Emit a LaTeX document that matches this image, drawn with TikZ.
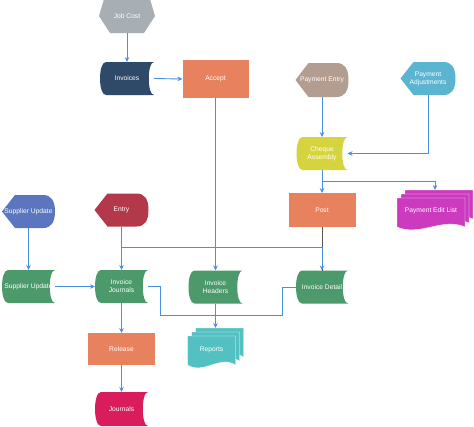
\documentclass[tikz,border=0pt]{standalone}
\usepackage{fontspec}
\setmainfont{Liberation Sans}
\usetikzlibrary{calc,arrows.meta}
\pgfdeclarelayer{back}
\pgfdeclarelayer{bg}
\pgfsetlayers{back,bg,main}
\definecolor{cNavy}{HTML}{2F4A68}
\definecolor{cOrange}{HTML}{E8825E}
\definecolor{cGray}{HTML}{A8AFB4}
\definecolor{cBrown}{HTML}{B39C90}
\definecolor{cTeal}{HTML}{5BB5D0}
\definecolor{cYellow}{HTML}{D6D43E}
\definecolor{cMagenta}{HTML}{CC3BBE}
\definecolor{cBlue}{HTML}{5B76BE}
\definecolor{cCrimson}{HTML}{B3394A}
\definecolor{cGreen}{HTML}{4C9A6B}
\definecolor{cReports}{HTML}{53C1C1}
\definecolor{cPink}{HTML}{D81C5C}
\definecolor{cArrow}{HTML}{4A90E2}
\definecolor{cDark}{HTML}{555555}
\tikzset{
  lbl/.style={inner sep=0pt, outer sep=0pt, text=white, font=\fontsize{6.7}{8}\selectfont, align=center},
  rectbox/.style={lbl, fill=cOrange},
  conn/.style={draw=cArrow, line width=0.9pt},
  arr/.style={conn, -{Stealth[length=5pt,width=4.5pt]}},
  darkconn/.style={draw=cDark, line width=0.9pt},
  pagestyle/.style={draw=white, line width=0.4pt},
}
% stored data shape: name cx cy w h colour text
\newcommand\storedshape[7]{%
  \node[lbl, minimum width=#4pt, minimum height=#5pt] (#1) at (#2,#3) {#7};
  \begin{pgfonlayer}{bg}
    \fill[#6] ($(#1.north west)+(6,0)$) -- (#1.north east)
      .. controls ($(#1.north east)+(-7,0)$) and ($(#1.south east)+(-7,0)$) .. (#1.south east)
      -- ($(#1.south west)+(6,0)$)
      .. controls ($(#1.south west)+(-2,0)$) and ($(#1.north west)+(-2,0)$) .. cycle;
  \end{pgfonlayer}}
% display shape: name cx cy w h colour text
\newcommand\displayshape[7]{%
  \node[lbl, minimum width=#4pt, minimum height=#5pt] (#1) at (#2,#3) {#7};
  \begin{pgfonlayer}{bg}
    \fill[#6] (#1.west) -- ($(#1.north west)+(13,0)$) -- ($(#1.north east)+(-12,0)$)
      .. controls ($(#1.north east)+(-4,0)$) and ($(#1.east)!0.667!(#1.north east)$) .. (#1.east)
      .. controls ($(#1.east)!0.667!(#1.south east)$) and ($(#1.south east)+(-4,0)$) .. ($(#1.south east)+(-12,0)$)
      -- ($(#1.south west)+(13,0)$) -- cycle;
  \end{pgfonlayer}}
% one page of a multi-document: x0 y0 x1 y1 colour
\newcommand\docpage[5]{%
  \fill[#5, pagestyle] (#1,#2) -- (#3,#2) -- (#3,#4-3)
    .. controls ({#3-(#3-#1)/3},{#4-13}) and ({#1+(#3-#1)/3},{#4+7}) .. (#1,#4-3) -- cycle;}
\begin{document}
\begin{tikzpicture}[x=1pt,y=-1pt]
\useasboundingbox (0,0) rectangle (474,426);
\begin{pgfonlayer}{back}
\fill[white] (0,0) rectangle (474,426);
\end{pgfonlayer}

% Job Cost (hexagon)
\node[lbl, minimum width=56pt, minimum height=34pt] (jobcost) at (127,16) {Job Cost};
\begin{pgfonlayer}{bg}
  \fill[cGray] ($(jobcost.north west)+(5,0)$) -- ($(jobcost.north east)+(-5,0)$) -- (jobcost.east)
    -- ($(jobcost.south east)+(-11,0)$) -- ($(jobcost.south west)+(11,0)$) -- (jobcost.west) -- cycle;
\end{pgfonlayer}

\storedshape{invoices}{127}{78.5}{54}{33}{cNavy}{Invoices}
\node[rectbox, minimum width=66pt, minimum height=38pt] (accept) at (215.5,79) {Accept};

\displayshape{payentry}{322}{80}{53}{34}{cBrown}{Payment Entry}
\displayshape{payadj}{428}{78.5}{55}{33}{cTeal}{Payment\\Adjustments}
\storedshape{cheque}{322}{153.5}{51}{33}{cYellow}{Cheque\\Assembly}
\node[rectbox, minimum width=67pt, minimum height=34pt] (post) at (322,210) {Post};

% Payment Edit List (multi-document)
\node[inner sep=0pt, outer sep=0pt, minimum width=76pt, minimum height=40pt] (pel) at (435,210) {};
\begin{pgfonlayer}{bg}
  \docpage{405}{190}{473}{222}{cMagenta}
  \docpage{401}{194}{469}{226}{cMagenta}
  \docpage{397}{198}{465}{230}{cMagenta}
\end{pgfonlayer}
\node[lbl] (peltext) at (431,211) {Payment Edit List};

\displayshape{supup}{28.5}{211.5}{53}{33}{cBlue}{Supplier Update}
\displayshape{entry}{121.5}{210}{54}{33}{cCrimson}{Entry}

\storedshape{supst}{28.5}{286.5}{53}{33}{cGreen}{Supplier Update}
\storedshape{invj}{121.5}{286.5}{53}{33}{cGreen}{Invoice\\Journals}
\storedshape{invh}{215.5}{287}{54}{33}{cGreen}{Invoice\\Headers}
\storedshape{invd}{322}{287}{52}{33}{cGreen}{Invoice Detail}

% Reports (multi-document)
\node[inner sep=0pt, outer sep=0pt, minimum width=56pt, minimum height=40pt] (reports) at (215.5,348) {};
\begin{pgfonlayer}{bg}
  \docpage{195.5}{328}{243.5}{360}{cReports}
  \docpage{191.5}{332}{239.5}{364}{cReports}
  \docpage{187.5}{336}{235.5}{368}{cReports}
\end{pgfonlayer}
\node[lbl] (reptext) at (211.5,350) {Reports};

\node[rectbox, minimum width=67pt, minimum height=32pt] (release) at (121.5,349) {Release};
\storedshape{journals}{121.5}{409}{53}{34}{cPink}{Journals}

% connectors
\draw[arr] (jobcost.south) -- (invoices.north);
\draw[arr] (invoices.east) -- (accept.west);
\draw[arr] (accept.south) -- (invh.north);
\draw[arr] (payentry.south) -- (cheque.north);
\draw[arr] (payadj.south) |- (cheque.east);
\draw[arr] (cheque.south) -- (post.north);
\coordinate (cbr) at (322,181);
\draw[arr] (cbr) -| (pel.north);
\draw[darkconn] (post.south) -- (invd.north);
\draw[arr] (supup.south) -- (supst.north);
\draw[arr] (entry.south) -- (invj.north);
\coordinate (ebr) at (121.5,247);
\draw[arr] (ebr) -| (invd.north);
\draw[arr] (supst.east) -- (invj.west);
\draw[arr] (invj.south) -- (release.north);
\draw[arr] (release.south) -- (journals.north);
\coordinate (mL) at (160,315);
\coordinate (mR) at (282,315);
\coordinate (mC) at (215.5,315);
\draw[conn] (invj.east) -| (mL) -- (mC);
\draw[conn] (invd.west) -| (mR) -- (mC);
\draw[arr] (invh.south) -- (reports.north);
\end{tikzpicture}
\end{document}
